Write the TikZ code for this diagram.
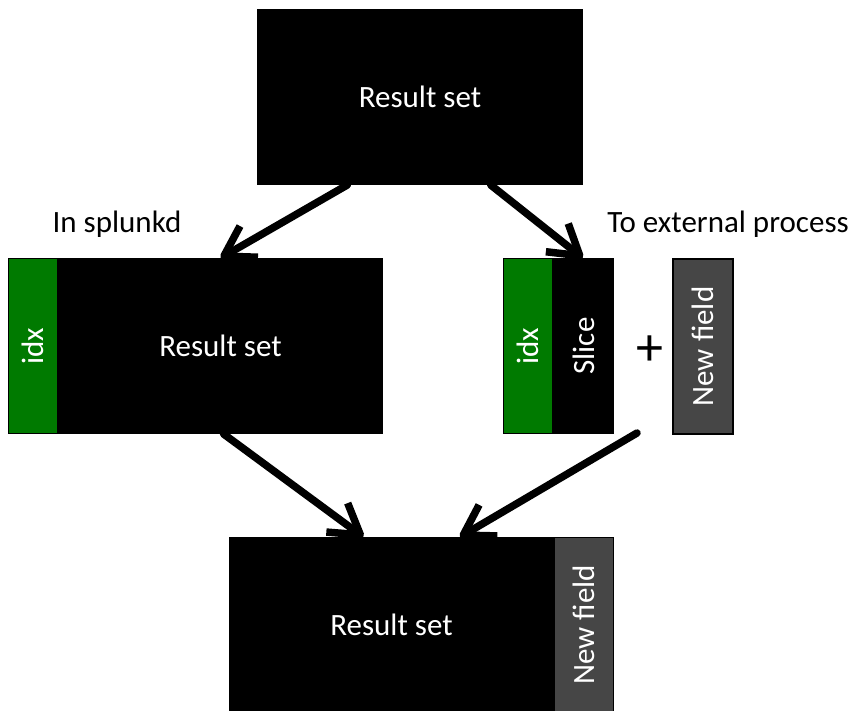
\documentclass[tikz,border=0pt]{standalone}
\usepackage{fontspec}
\setmainfont{Carlito}
\usetikzlibrary{arrows.meta,calc}
\definecolor{idxgreen}{RGB}{0,122,0}
\definecolor{fieldgrey}{RGB}{70,70,70}
\begin{document}
\begin{tikzpicture}[x=1pt,y=-1pt,
  txt/.style={font=\fontsize{31}{37}\selectfont},
  wtxt/.style={txt,text=white},
  block/.style={anchor=north west,inner sep=0pt,minimum height=175pt,
                fill=black,draw=black,line width=1pt},
  idxstrip/.style={block,fill=idxgreen,minimum width=49pt},
  fieldstrip/.style={block,fill=fieldgrey,minimum width=59pt},
  flow/.style={line width=7.5pt,line cap=round,
               -{Straight Barb[length=29pt,width=36pt,line join=round]}}
]
\useasboundingbox (0,0) rectangle (856,711);

% source result set
\node[block,minimum width=325pt] (top) at (257,9) {};
\node[wtxt] at (top.center) {Result set};

% in-process copy with index column
\node[block,minimum width=374pt] (left) at (8,258) {};
\node[idxstrip] (leftidx) at (8,258) {};
\node[wtxt,rotate=90] at (leftidx.center) {idx};
\node[wtxt] at ($(leftidx.east)!0.5!(left.east)$) {Result set};

% slice sent to the external process
\node[block,minimum width=110pt] (slice) at (503,258) {};
\node[idxstrip] (sliceidx) at (503,258) {};
\node[wtxt,rotate=90] at (sliceidx.center) {idx};
\node[wtxt,rotate=90] at ($(sliceidx.east)!0.5!(slice.east)$) {Slice};
\node[font=\fontsize{54}{60}\selectfont,inner sep=0pt] (plus) at (649.5,351) {+};
\node[fieldstrip,line width=2pt,minimum width=60pt] (newf) at (672,258) {};
\node[wtxt,rotate=90] at (newf.center) {New field};

% merged result set
\node[block,minimum width=384pt] (bottom) at (229,537) {};
\node[fieldstrip] (bottomf) at (554,537) {};
\node[wtxt,rotate=90] at (bottomf.center) {New field};
\node[wtxt] at ($(bottom.west)!0.5!(bottomf.west)$) {Result set};

% captions
\node[txt,anchor=base] (capin) at (117,233) {In splunkd};
\node[txt,anchor=base] (capout) at (728,233) {To external process};

% data flow
\coordinate (extout) at (637,433);
\draw[flow] ($(top.south west)!0.277!(top.south east)$) -- ($(left.north west)!0.567!(left.north east)$);
\draw[flow] ($(top.south west)!0.717!(top.south east)$) -- ($(slice.north west)!0.718!(slice.north east)$);
\draw[flow] ($(left.south west)!0.575!(left.south east)$) -- ($(bottom.north west)!0.349!(bottom.north east)$);
\draw[flow] (extout) -- ($(bottom.north west)!0.60!(bottom.north east)$);
\end{tikzpicture}
\end{document}
